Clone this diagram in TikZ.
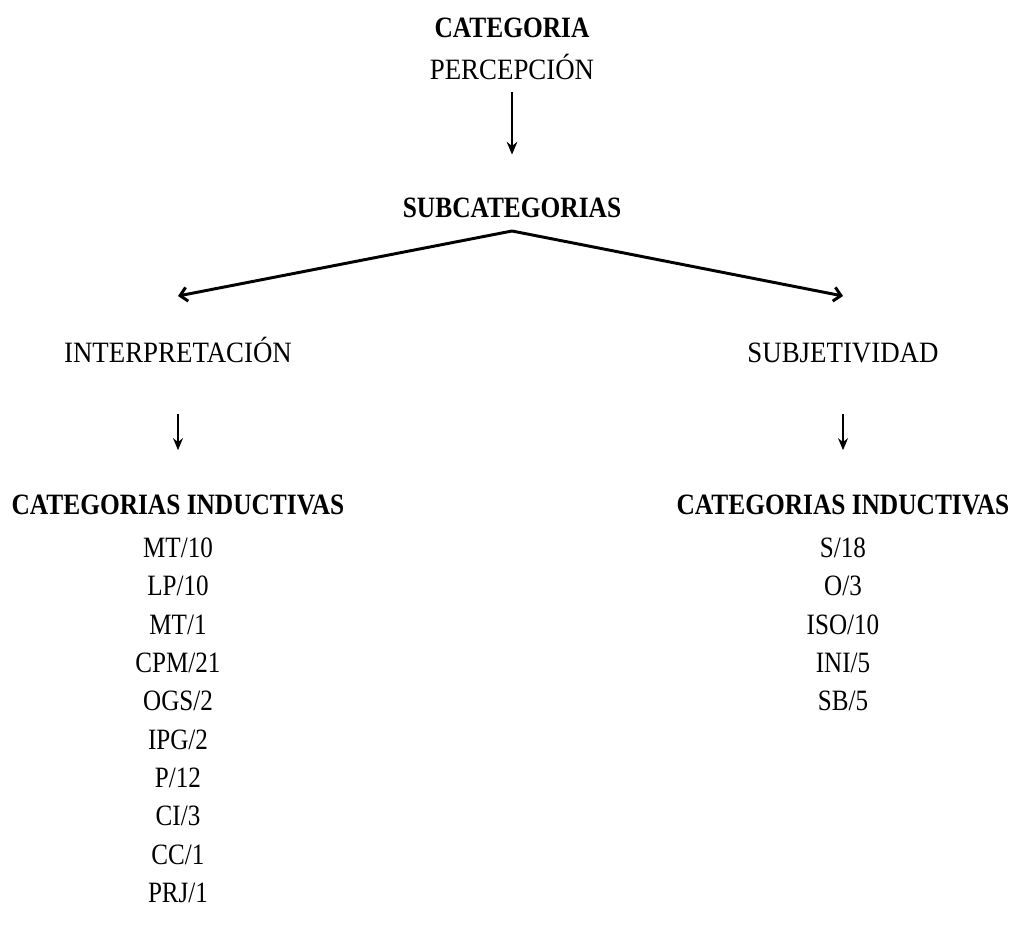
\documentclass[tikz,border=0pt]{standalone}
\usepackage{fontspec}
\setmainfont{Liberation Serif}[FakeStretch=0.85]
\newfontfamily\hdrfont{Liberation Serif}[FakeStretch=0.86]
\newfontfamily\subfont{Liberation Serif}[FakeStretch=0.91]
\usetikzlibrary{arrows.meta}

\begin{document}
\begin{tikzpicture}[x=0.025cm,y=-0.025cm,
  txt/.style={anchor=base,inner sep=0pt},
  lbl/.style={txt,font=\subfont},
  hdr/.style={txt,font=\hdrfont\bfseries},
  bigarrow/.style={line width=2pt,-{Stealth[length=9pt,width=7.5pt]}},
  splitarrow/.style={line width=2.1pt,-{Straight Barb[length=5pt,width=10pt]}},
  smallarrow/.style={line width=1.5pt,-{Stealth[length=8.5pt,width=7pt]}}]
\useasboundingbox (0,0) rectangle (1013,931);
\fontsize{21}{25}\selectfont
% top
\node[hdr] (cat) at (512,38) {CATEGORIA};
\node[lbl] (perc) at (512,80) {PERCEPCIÓN};
\node[hdr] (sub) at (512,218) {SUBCATEGORIAS};
\path[draw,bigarrow,shorten <=8pt,shorten >=31pt] (perc.south) -- (sub.north);
% split
\coordinate (apex) at (512,231);
\coordinate (lend) at (178,296);
\coordinate (rend) at (843,296);
\path[draw,splitarrow] (apex) -- (lend);
\path[draw,splitarrow] (apex) -- (rend);
\node[lbl] (interp) at (178,363) {INTERPRETACIÓN};
\node[lbl] (subj) at (843,363) {SUBJETIVIDAD};
% left column
\node[hdr] (indl) at (178,515) {CATEGORIAS INDUCTIVAS};
\path[draw,smallarrow,shorten <=36pt,shorten >=32pt] (interp.south) -- (indl.north);
\node[txt] (l1) at (178,557) {MT/10};
\node[txt] (l2) at (178,595) {LP/10};
\node[txt] (l3) at (178,634) {MT/1};
\node[txt] (l4) at (178,672) {CPM/21};
\node[txt] (l5) at (178,710) {OGS/2};
\node[txt] (l6) at (178,749) {IPG/2};
\node[txt] (l7) at (178,787) {P/12};
\node[txt] (l8) at (178,825) {CI/3};
\node[txt] (l9) at (178,864) {CC/1};
\node[txt] (l10) at (178,902) {PRJ/1};
% right column
\node[hdr] (indr) at (843,515) {CATEGORIAS INDUCTIVAS};
\path[draw,smallarrow,shorten <=36pt,shorten >=32pt] (subj.south) -- (indr.north);
\node[txt] (r1) at (843,557) {S/18};
\node[txt] (r2) at (843,595) {O/3};
\node[txt] (r3) at (843,634) {ISO/10};
\node[txt] (r4) at (843,672) {INI/5};
\node[txt] (r5) at (843,710) {SB/5};
\end{tikzpicture}
\end{document}
